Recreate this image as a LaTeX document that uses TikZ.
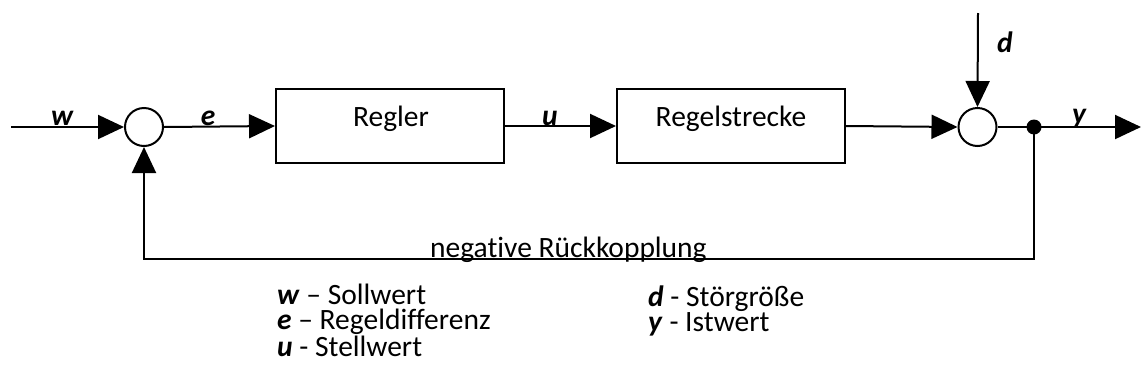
\documentclass[tikz,border=0pt]{standalone}
\usepackage{fontspec}
\setmainfont[Ligatures=NoCommon]{Carlito}
\usetikzlibrary{arrows.meta}
\tikzset{
  wire/.style={line width=2pt, draw=black},
  arr/.style={wire, -{Triangle[length=26pt,width=24pt]}},
  block/.style={draw=black, line width=2pt, rectangle, minimum width=228pt, minimum height=74pt, inner sep=0pt},
  sumpt/.style={draw=black, line width=2pt, circle, minimum size=38pt, inner sep=0pt},
  junction/.style={fill=black, circle, minimum size=15pt, inner sep=0pt},
  txt/.style={font=\fontsize{29.5}{29.5}\selectfont, inner sep=0pt, anchor=base},
  sig/.style={txt, font=\fontsize{29.5}{29.5}\selectfont\bfseries\itshape},
  legend/.style={font=\fontsize{29.5}{25}\selectfont, inner sep=0pt, align=left, anchor=base west}
}
\newcommand{\sym}[1]{\textbf{\textit{#1}}}
\begin{document}
\begin{tikzpicture}[x=1pt,y=-1pt]
\useasboundingbox (0,0) rectangle (1141,389);

% blocks and summing points
\node[sumpt] (s1) at (144,127) {};
\node[block] (ctrl) at (390,126) {};
\node[txt] (ctrlT) at (391,126) {Regler};
\node[block] (plant) at (731,126) {};
\node[txt] (plantT) at (731,126) {Regelstrecke};
\node[sumpt] (s2) at (977.5,127) {};
\node[junction] (dot) at (1034,127) {};

% free ends
\coordinate (win) at (11,127);
\coordinate (dtop) at (978,13);
\coordinate (yout) at (1141,127);
\coordinate (fbR) at (1034,259);
\coordinate (fbL) at (144,259);

% forward path
\draw[arr] (win) -- (s1.west);
\draw[arr] (s1.east) -- (ctrl.west);
\draw[arr] (ctrl.east) -- (plant.west);
\draw[arr] (plant.east) -- (s2.west);
\draw[arr] (dtop) -- (s2.north);
\draw[wire] (s2.east) -- (dot.center);
\draw[arr] (dot.center) -- (yout);

% feedback path
\draw[arr] (dot.center) -- (fbR) -- (fbL) -- (s1.south);

% signal labels
\node[sig] (lw) at (62,125) {w};
\node[sig] (le) at (208,125) {e};
\node[sig] (lu) at (550,125) {u};
\node[sig] (ly) at (1079,123) {y};
\node[sig] (ld) at (1005,52) {d};

\node[txt, anchor=base west] (fbT) at (430,257) {negative Rückkopplung};

% legend, two columns (anchored at the baseline of the last line)
\node[legend] (keyA) at (277,356) {\sym{w} – Sollwert\\ \sym{e} – Regeldifferenz\\ \sym{u} - Stellwert};
\node[legend] (keyB) at (648,331) {\sym{d} - Störgröße\\ \sym{y} - Istwert};
\end{tikzpicture}
\end{document}
